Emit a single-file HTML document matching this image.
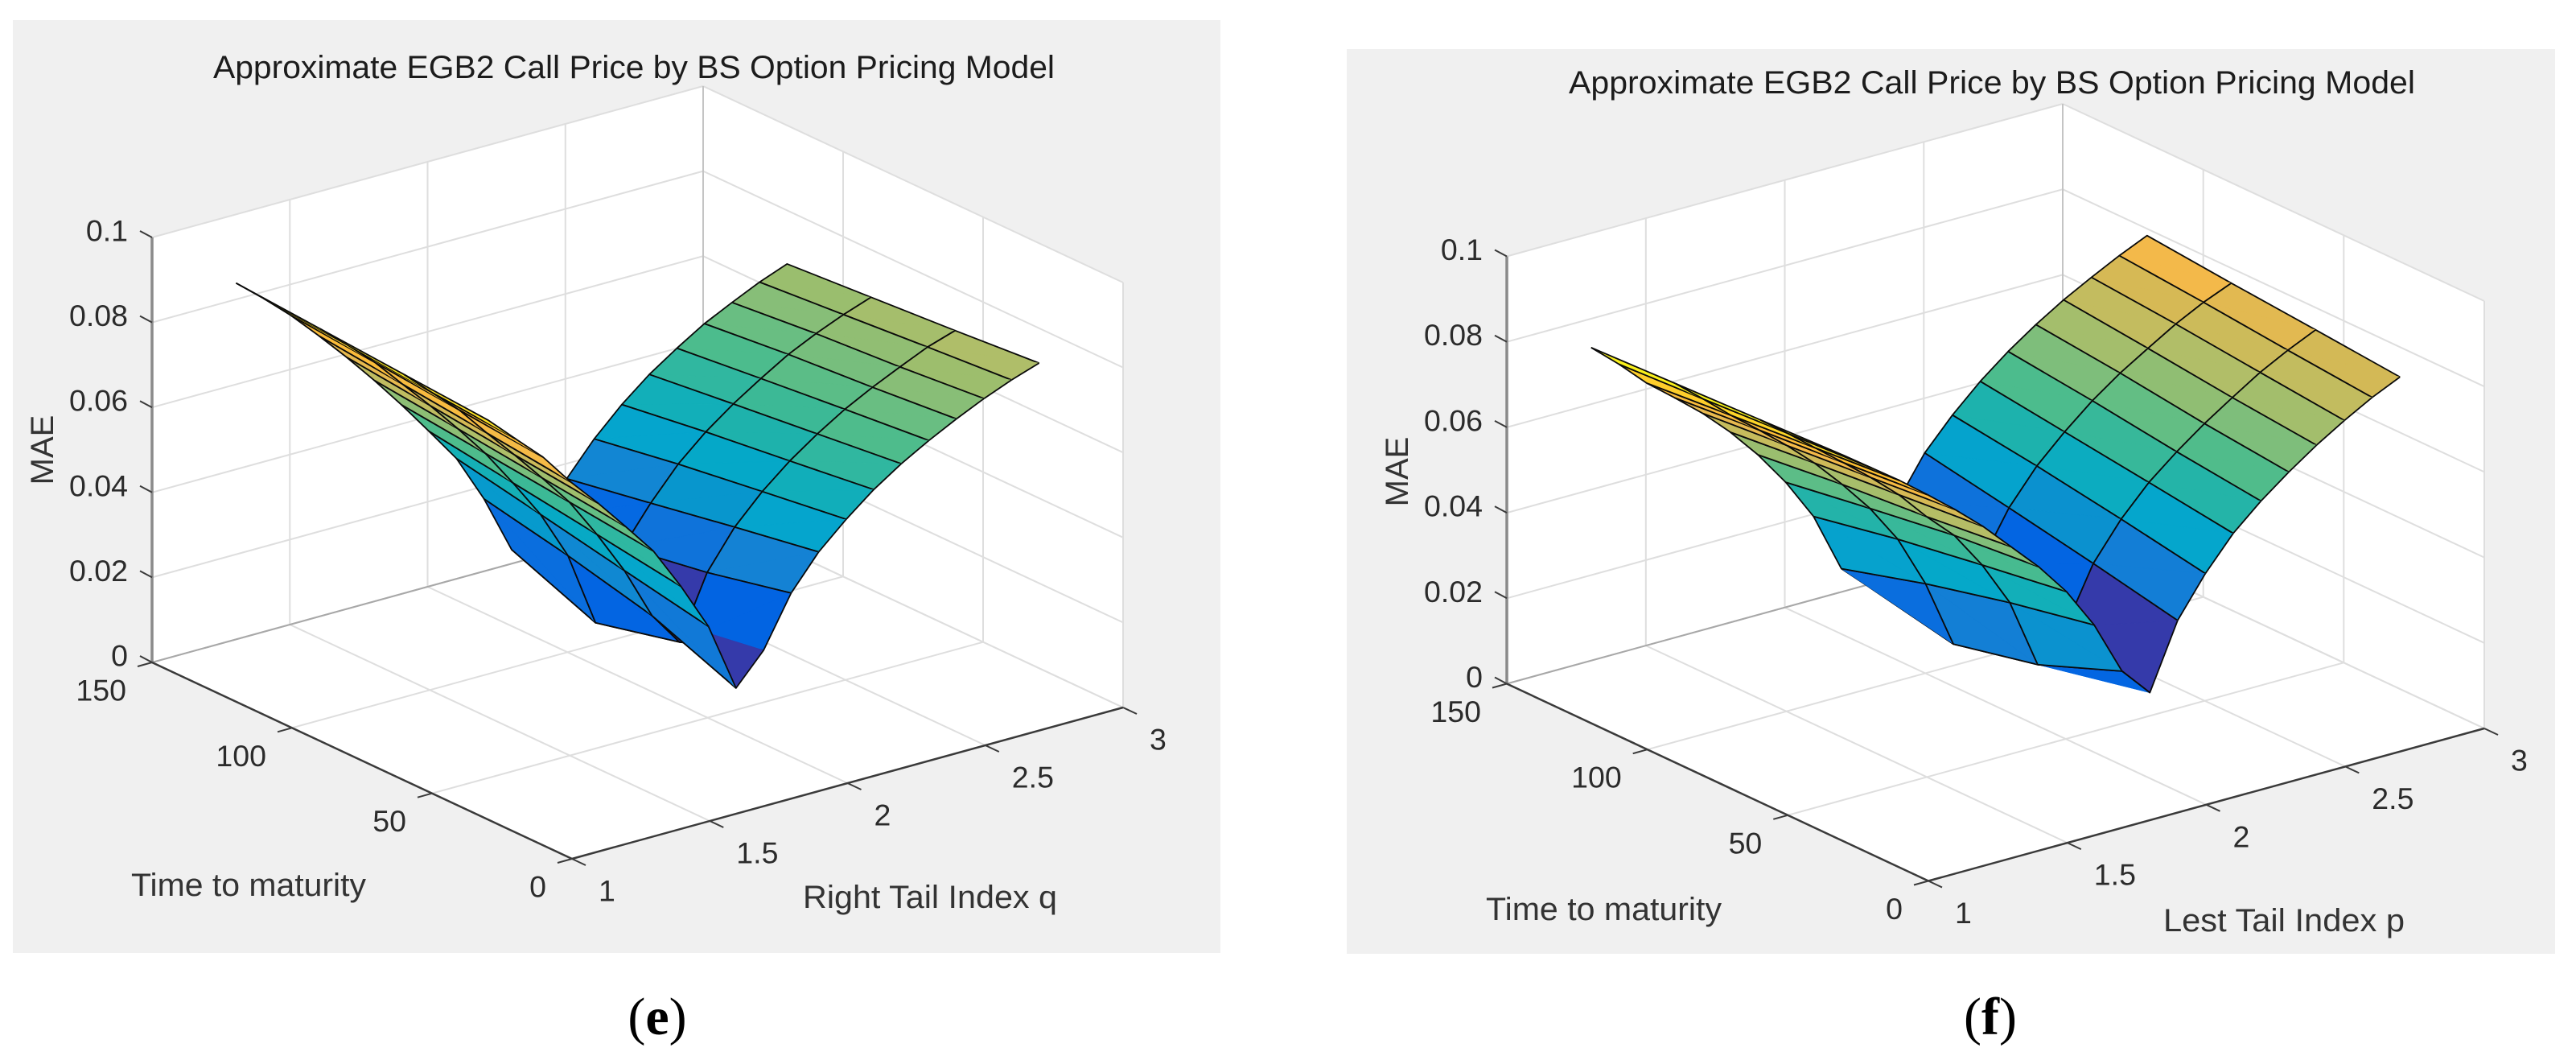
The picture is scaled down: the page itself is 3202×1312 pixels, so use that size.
<!DOCTYPE html>
<html lang="en">
<head>
<meta charset="utf-8">
<title>Approximate EGB2 Call Price surfaces</title>
<style>
html,body{margin:0;padding:0;background:#fff;}
svg{display:block;}
text{font-family:"Liberation Sans",sans-serif;fill:#2b2b2b;}
.caption{font-family:"Liberation Serif",serif;font-size:66px;fill:#000;text-anchor:middle;}
.ttl{font-size:40px;fill:#1c1c1c;}
.lab{font-size:40px;fill:#333;}
</style>
</head>
<body>
<svg id="fig" xmlns="http://www.w3.org/2000/svg" width="3202" height="1312" viewBox="0 0 3202 1312">
  <rect x="0" y="0" width="3202" height="1312" fill="#ffffff"/>
  <g id="panelE">
    <rect x="16" y="25" width="1501" height="1159" fill="#f0f0f0"/>
    <g id="plotE"></g>
    <text class="ttl" x="265" y="97" textLength="1046" lengthAdjust="spacingAndGlyphs">Approximate EGB2 Call Price by BS Option Pricing Model</text>
    <text class="lab" transform="translate(66,559) rotate(-90)" text-anchor="middle">MAE</text>
    <text class="lab" x="163" y="1113" textLength="292" lengthAdjust="spacingAndGlyphs">Time to maturity</text>
    <text class="lab" x="998" y="1128" textLength="316" lengthAdjust="spacingAndGlyphs">Right Tail Index q</text>
    <text class="caption" x="817" y="1285">(<tspan font-weight="bold">e</tspan>)</text>
  </g>
  <g id="panelF">
    <rect x="1674" y="61" width="1502" height="1124" fill="#f0f0f0"/>
    <g id="plotF"></g>
    <text class="ttl" x="1950" y="116" textLength="1052" lengthAdjust="spacingAndGlyphs">Approximate EGB2 Call Price by BS Option Pricing Model</text>
    <text class="lab" transform="translate(1750,586) rotate(-90)" text-anchor="middle">MAE</text>
    <text class="lab" x="1847" y="1143" textLength="293" lengthAdjust="spacingAndGlyphs">Time to maturity</text>
    <text class="lab" x="2689" y="1157" textLength="300" lengthAdjust="spacingAndGlyphs">Lest Tail Index p</text>
    <text class="caption" x="2474" y="1285">(<tspan font-weight="bold">f</tspan>)</text>
  </g>
</svg>
<script>
/* ---- shared grid and tick values ---- */
const indexValues = [1,1.1,1.2,1.3,1.4,1.5,1.6,1.7,1.8,1.9,2,2.1,2.2,2.3,2.4,2.5,2.6,2.7,2.8,2.9,3];
const timeValues = [30,60,90,120];
const zTicks = [0,0.02,0.04,0.06,0.08,0.1];
const zTickLabels = ["0","0.02","0.04","0.06","0.08","0.1"];
const timeTicks = [0,50,100,150];
const timeTickLabels = ["0","50","100","150"];
const indexTicks = [1,1.5,2,2.5,3];
const indexTickLabels = ["1","1.5","2","2.5","3"];

/* ---- panel (e): MAE by right tail index q, one array per time to maturity ---- */
const maeE30  = [.0940,.0878,.0817,.0741,.0673,.0600,.0525,.0424,.0312,.0149,.0220,.0337,.0416,.0475,.0527,.0570,.0607,.0640,.0670,.0696,.0718];
const maeE60  = [.0955,.0895,.0836,.0764,.0695,.0623,.0548,.0454,.0351,.0227,.0147,.0293,.0382,.0448,.0502,.0548,.0588,.0622,.0652,.0681,.0702];
const maeE90  = [.0970,.0914,.0855,.0786,.0718,.0646,.0570,.0483,.0391,.0276,.0100,.0260,.0346,.0420,.0478,.0526,.0568,.0607,.0638,.0665,.0688];
const maeE120 = [.0985,.0931,.0873,.0808,.0740,.0668,.0592,.0512,.0430,.0317,.0180,.0240,.0311,.0387,.0450,.0503,.0547,.0587,.0619,.0649,.0674];

/* ---- panel (f): MAE by left tail index p, one array per time to maturity ---- */
const maeF30  = [.0903,.0856,.0809,.0758,.0705,.0648,.0583,.0518,.0442,.0346,.0220,.0152,.0303,.0395,.0471,.0529,.0579,.0624,.0664,.0700,.0730];
const maeF60  = [.0895,.0845,.0793,.0741,.0688,.0630,.0561,.0499,.0412,.0306,.0143,.0213,.0344,.0430,.0498,.0552,.0600,.0643,.0684,.0718,.0748];
const maeF90  = [.0887,.0833,.0777,.0725,.0671,.0612,.0544,.0470,.0380,.0258,.0099,.0272,.0382,.0462,.0524,.0579,.0626,.0666,.0705,.0738,.0765];
const maeF120 = [.0879,.0822,.0760,.0708,.0654,.0592,.0521,.0439,.0341,.0201,.0140,.0320,.0418,.0489,.0550,.0602,.0647,.0687,.0722,.0755,.0784];

/* colormap stops: position, r, g, b */
const colormapStops = [
 [0,53,58,170],[.08,53,58,170],[.10,0,96,226],[.18,5,105,226],[.218,15,115,218],[.268,20,130,212],
 [.318,8,150,205],[.358,5,165,205],[.394,5,168,200],[.427,18,175,185],[.454,30,178,172],[.482,48,183,160],
 [.506,60,185,150],[.531,78,188,140],[.573,105,190,130],[.608,135,190,120],[.64,155,190,110],[.674,175,190,105],
 [.704,195,188,95],[.752,213,185,85],[.793,243,185,75],[.88,255,190,50],[.95,252,225,35],[1,249,251,21]
];

const SVGNS = "http://www.w3.org/2000/svg";

function colormap(v){
  v = Math.max(0,Math.min(1,v));
  for(let k=1;k<colormapStops.length;k++){
    const a = colormapStops[k-1], b = colormapStops[k];
    if(v<=b[0]){
      const f = (v-a[0])/((b[0]-a[0])||1);
      return "rgb("+[1,2,3].map(n=>Math.round(a[n]+(b[n]-a[n])*f)).join(",")+")";
    }
  }
  return "rgb(249,251,21)";
}

function makeProjection(origin, indexVec, timeVec, zHeight){
  return function(index, time, z){
    const a = (index-1)/2, b = time/150, c = z/0.1;
    return [origin[0]+indexVec[0]*a+timeVec[0]*b, origin[1]+indexVec[1]*a+timeVec[1]*b-zHeight*c];
  };
}

function pts(list){
  return list.map(p=>p[0].toFixed(1)+","+p[1].toFixed(1)).join(" ");
}

function addLine(parent, p, q, color, width, name){
  const el = document.createElementNS(SVGNS,"line");
  el.setAttribute("x1",p[0].toFixed(1));
  el.setAttribute("y1",p[1].toFixed(1));
  el.setAttribute("x2",q[0].toFixed(1));
  el.setAttribute("y2",q[1].toFixed(1));
  el.setAttribute("stroke",color);
  el.setAttribute("stroke-width",width);
  
  
  parent.appendChild(el);
  return el;
}

function addLabel(parent, x, y, anchor, str, name){
  const el = document.createElementNS(SVGNS,"text");
  el.setAttribute("x",x.toFixed(1));
  el.setAttribute("y",y.toFixed(1));
  el.setAttribute("text-anchor",anchor);
  el.setAttribute("font-size","37.5");
  el.textContent = str;
  
  
  parent.appendChild(el);
  return el;
}

function addFacet(parent, list, color){
  const el = document.createElementNS(SVGNS,"polygon");
  el.setAttribute("points",pts(list));
  el.setAttribute("fill",color);
  el.setAttribute("stroke",color);
  el.setAttribute("stroke-width","0.6");
  
  
  parent.appendChild(el);
}

function addEdges(parent, list){
  const el = document.createElementNS(SVGNS,"polyline");
  el.setAttribute("points",pts(list));
  el.setAttribute("fill","none");
  el.setAttribute("stroke","#0a0a0a");
  el.setAttribute("stroke-width","1.8");
  el.setAttribute("stroke-linejoin","round");
  
  
  parent.appendChild(el);
}

function drawPanel(parent, project, series){
  const zMax = 0.1, GRID = "#dedede";
  const leftB = project(1,150,0), backB = project(3,150,0), rightB = project(3,0,0), frontB = project(1,0,0);
  const leftT = project(1,150,zMax), backT = project(3,150,zMax), rightT = project(3,0,zMax);

  const pane = document.createElementNS(SVGNS,"polygon");
  pane.setAttribute("points",pts([leftT,backT,rightT,rightB,frontB,leftB]));
  pane.setAttribute("fill","#ffffff");
  
  
  parent.appendChild(pane);

  /* gridlines on the floor and the two back walls */
  zTicks.forEach(z=>{
    addLine(parent, project(1,150,z), project(3,150,z), GRID, 2, "wall-gridline-z");
    addLine(parent, project(3,150,z), project(3,0,z), GRID, 2, "wall-gridline-z");
  });
  indexTicks.forEach(v=>{
    addLine(parent, project(v,0,0), project(v,150,0), GRID, 2, "floor-gridline-index");
    addLine(parent, project(v,150,0), project(v,150,zMax), GRID, 2, "wall-gridline-index");
  });
  timeTicks.forEach(t=>{
    addLine(parent, project(1,t,0), project(3,t,0), GRID, 2, "floor-gridline-time");
    addLine(parent, project(3,t,0), project(3,t,zMax), GRID, 2, "wall-gridline-time");
  });
  addLine(parent, leftB, backB, "#a8a8a8", 2, "back-floor-edge");
  addLine(parent, backB, backT, "#c4c4c4", 2, "back-vertical-edge");

  /* surface: back-to-front; each face coloured by its low-index low-time corner and split along one diagonal */
  let zLo = Infinity, zHi = -Infinity;
  series.forEach(row=>row.forEach(v=>{ if(v<zLo) zLo=v; if(v>zHi) zHi=v; }));
  const surface = document.createElementNS(SVGNS,"g");
  
  
  parent.appendChild(surface);
  for(let i=indexValues.length-2;i>=0;i--){
    for(let j=timeValues.length-2;j>=0;j--){
      const B = project(indexValues[i],timeValues[j],series[j][i]);
      const C = project(indexValues[i+1],timeValues[j],series[j][i+1]);
      const D = project(indexValues[i+1],timeValues[j+1],series[j+1][i+1]);
      const A = project(indexValues[i],timeValues[j+1],series[j+1][i]);
      const color = colormap((series[j][i]-zLo)/(zHi-zLo));
      addFacet(surface,[A,C,D],color);
      addEdges(surface,[C,D,A]);
      addFacet(surface,[A,B,C],color);
      addEdges(surface,[A,B,C]);
    }
  }

  /* axis rulers */
  addLine(parent, leftB, leftT, "#8a8a8a", 3.5, "z-axis-line");
  addLine(parent, leftB, frontB, "#3a3a3a", 2.5, "time-axis-line");
  addLine(parent, frontB, rightB, "#3a3a3a", 2.5, "index-axis-line");

  /* ticks and tick labels */
  zTicks.forEach((z,k)=>{
    const p = project(1,150,z);
    addLine(parent, p, [p[0]-15,p[1]-8], "#3a3a3a", 2, "z-tick");
    addLabel(parent, p[0]-30, p[1]+4.5, "end", zTickLabels[k], "z-tick-label");
  });
  timeTicks.forEach((t,k)=>{
    const p = project(1,t,0);
    addLine(parent, p, [p[0]-18,p[1]+5], "#3a3a3a", 2, "time-tick");
    addLabel(parent, p[0]-32, p[1]+47.5, "end", timeTickLabels[k], "time-tick-label");
  });
  indexTicks.forEach((v,k)=>{
    const p = project(v,0,0);
    addLine(parent, p, [p[0]+17,p[1]+8], "#3a3a3a", 2, "index-tick");
    addLabel(parent, p[0]+33, p[1]+52.5, "start", indexTickLabels[k], "index-tick-label");
  });
}

drawPanel(document.getElementById("plotE"),
  makeProjection([711,1067],[685,-188],[-522,-244],528),
  [maeE30,maeE60,maeE90,maeE120]);
drawPanel(document.getElementById("plotF"),
  makeProjection([2397,1094.5],[691,-189.5],[-524,-245],531),
  [maeF30,maeF60,maeF90,maeF120]);
</script>
</body>
</html>
